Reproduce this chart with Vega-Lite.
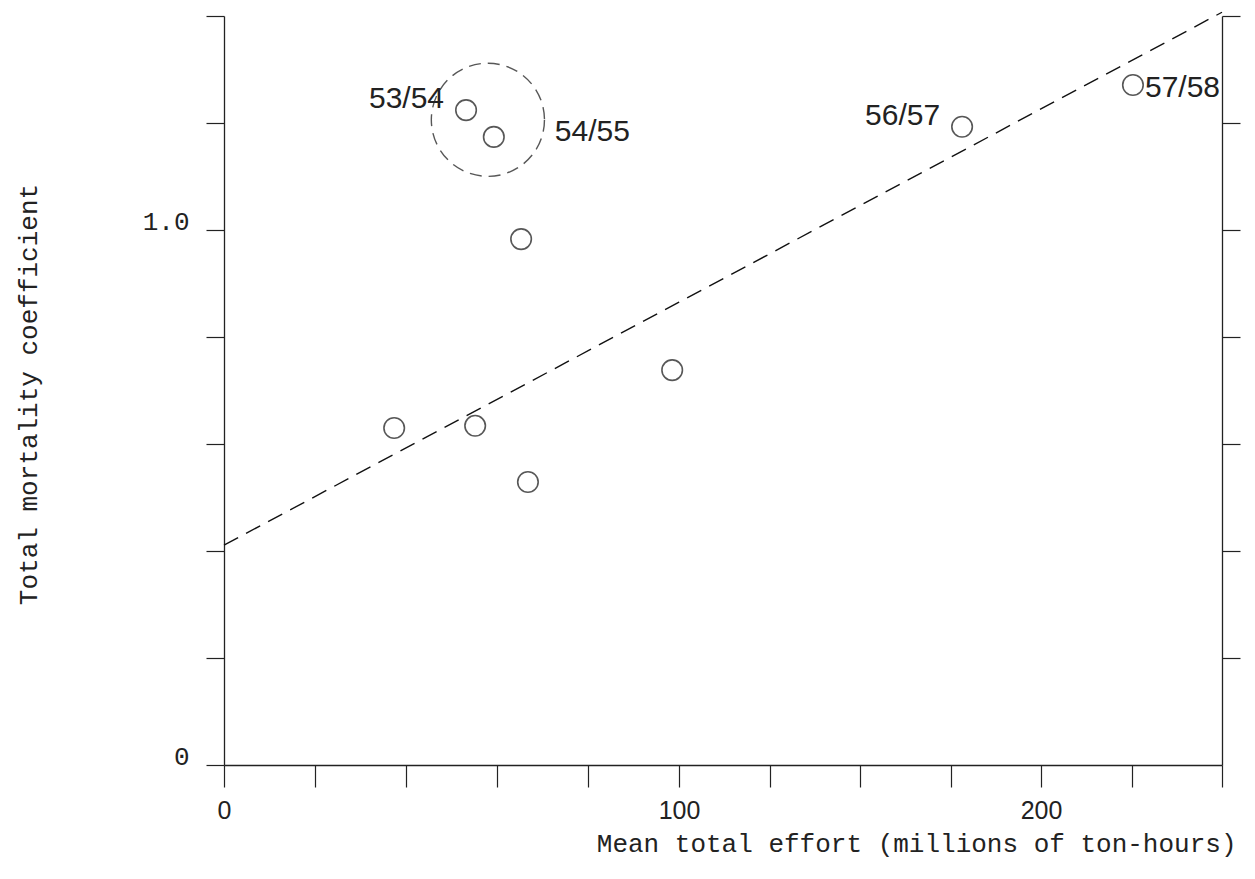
{
  "$schema": "https://vega.github.io/schema/vega-lite/v6.json",
  "width": 998,
  "height": 749,
  "autosize": {"type": "none"},
  "padding": {"left": 224, "top": 16, "right": 33, "bottom": 114},
  "background": "white",
  "config": {"view": {"stroke": null}},
  "datasets": {
    "seasons": [
      {"effort": 53.2, "mortality": 1.224, "season": "53/54"},
      {"effort": 59.3, "mortality": 1.174, "season": "54/55"},
      {"effort": 65.3, "mortality": 0.983, "season": ""},
      {"effort": 37.4, "mortality": 0.630, "season": ""},
      {"effort": 55.2, "mortality": 0.634, "season": ""},
      {"effort": 66.8, "mortality": 0.529, "season": ""},
      {"effort": 98.5, "mortality": 0.738, "season": ""},
      {"effort": 178.2, "mortality": 1.193, "season": "56/57"},
      {"effort": 225.4, "mortality": 1.271, "season": "57/58"}
    ],
    "fit": [
      {"effort": 0, "mortality": 0.411},
      {"effort": 100, "mortality": 0.865},
      {"effort": 250, "mortality": 1.407}
    ],
    "group": [
      {"effort": 58.0, "mortality": 1.206}
    ]
  },
  "layer": [
    {
      "data": {"name": "fit"},
      "mark": {"type": "line", "color": "#111", "strokeWidth": 1.4, "strokeDash": [16, 9]},
      "encoding": {
        "x": {
          "field": "effort", "type": "quantitative",
          "scale": {"domain": [0, 100, 250], "range": [0, 455, 998], "nice": false, "zero": false},
          "axis": {
            "orient": "bottom",
            "values": [0, 20, 40, 60, 80, 100, 125, 150, 175, 200, 225, 250],
            "labelExpr": "datum.value == 0 || datum.value == 100 || datum.value == 200 ? datum.label : ''",
            "format": "d",
            "grid": false,
            "domainColor": "#222", "domainWidth": 1.3,
            "tickColor": "#222", "tickWidth": 1.2, "tickSize": 22,
            "labelFont": "Liberation Sans", "labelFontSize": 25, "labelColor": "#222",
            "labelPadding": 11, "labelFlush": false, "labelOverlap": false,
            "title": "Mean total effort (millions of ton-hours)",
            "titleFont": "Liberation Mono", "titleFontSize": 26, "titleFontWeight": "normal",
            "titleColor": "#222", "titleAnchor": "end", "titleAlign": "right",
            "titleBaseline": "middle", "titleX": 1012, "titleY": 78
          }
        },
        "y": {
          "field": "mortality", "type": "quantitative",
          "scale": {"domain": [0, 1.4], "nice": false},
          "axis": {
            "orient": "left",
            "values": [0, 0.2, 0.4, 0.6, 0.8, 1, 1.2, 1.4],
            "labelExpr": "datum.value == 0 ? '0' : datum.value == 1 ? '1.0' : ''",
            "grid": false,
            "domainColor": "#222", "domainWidth": 1.3,
            "tickColor": "#222", "tickWidth": 1.2, "tickSize": 18,
            "labelFont": "Liberation Mono", "labelFontSize": 26, "labelColor": "#222",
            "labelPadding": 17, "labelOffset": -9, "labelOverlap": false,
            "title": "Total mortality coefficient",
            "titleFont": "Liberation Mono", "titleFontSize": 26, "titleFontWeight": "normal",
            "titleColor": "#222", "titleAlign": "center", "titleBaseline": "middle",
            "titleX": -196, "titleY": 378
          }
        }
      }
    },
    {
      "data": {"name": "seasons"},
      "mark": {"type": "point", "shape": "circle", "filled": false, "size": 420, "stroke": "#111", "strokeWidth": 1.6},
      "encoding": {
        "x": {"field": "effort", "type": "quantitative"},
        "y": {
          "field": "mortality", "type": "quantitative",
          "axis": {
            "orient": "right",
            "values": [0.2, 0.4, 0.6, 0.8, 1, 1.2, 1.4],
            "labels": false, "grid": false, "title": null,
            "domainColor": "#222", "domainWidth": 1.3,
            "tickColor": "#222", "tickWidth": 1.2, "tickSize": 18
          }
        }
      }
    },
    {
      "data": {"name": "group"},
      "mark": {"type": "point", "shape": "circle", "filled": false, "size": 12800, "stroke": "#111", "strokeWidth": 1.4, "strokeDash": [12, 7]},
      "encoding": {
        "x": {"field": "effort", "type": "quantitative"},
        "y": {"field": "mortality", "type": "quantitative", "axis": null}
      }
    },
    {
      "data": {"name": "seasons"},
      "transform": [{"filter": "datum.season == '53/54' || datum.season == '56/57'"}],
      "mark": {"type": "text", "align": "right", "baseline": "middle", "dx": -22, "dy": -11, "font": "Liberation Sans", "fontSize": 30, "color": "#222"},
      "encoding": {
        "x": {"field": "effort", "type": "quantitative"},
        "y": {"field": "mortality", "type": "quantitative", "axis": null},
        "text": {"field": "season"}
      }
    },
    {
      "data": {"name": "seasons"},
      "transform": [{"filter": "datum.season == '54/55'"}],
      "mark": {"type": "text", "align": "left", "baseline": "middle", "dx": 61, "dy": -5, "font": "Liberation Sans", "fontSize": 30, "color": "#222"},
      "encoding": {
        "x": {"field": "effort", "type": "quantitative"},
        "y": {"field": "mortality", "type": "quantitative", "axis": null},
        "text": {"field": "season"}
      }
    },
    {
      "data": {"name": "seasons"},
      "transform": [{"filter": "datum.season == '57/58'"}],
      "mark": {"type": "text", "align": "left", "baseline": "middle", "dx": 12, "dy": 3, "font": "Liberation Sans", "fontSize": 30, "color": "#222"},
      "encoding": {
        "x": {"field": "effort", "type": "quantitative"},
        "y": {"field": "mortality", "type": "quantitative", "axis": null},
        "text": {"field": "season"}
      }
    }
  ],
  "resolve": {"axis": {"y": "independent"}}
}
